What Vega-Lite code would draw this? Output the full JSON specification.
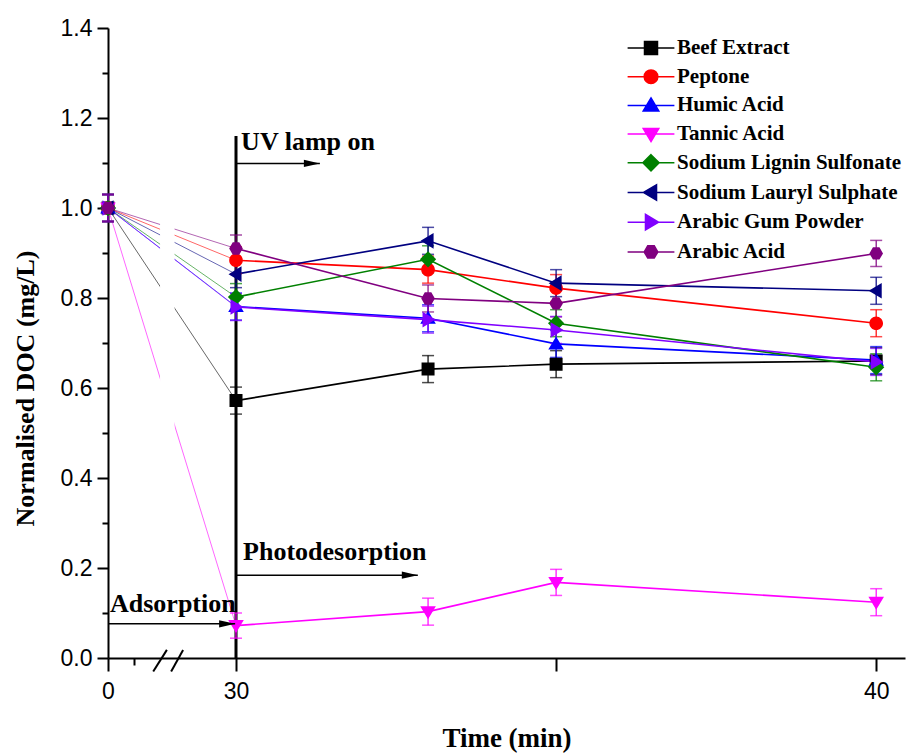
{
  "$schema": "https://vega.github.io/schema/vega-lite/v6.json",
  "width": 797,
  "height": 630,
  "autosize": "none",
  "padding": {"left": 108, "top": 28, "right": 2, "bottom": 96},
  "background": "white",
  "config": {"view": {"stroke": null}, "axis": {"grid": false}},
  "datasets": {
    "doc": [
      {"name": "Beef Extract", "time": 0, "doc": 1.0, "err": 0.03},
      {"name": "Beef Extract", "time": 30, "doc": 0.572, "err": 0.03},
      {"name": "Beef Extract", "time": 33, "doc": 0.642, "err": 0.03},
      {"name": "Beef Extract", "time": 35, "doc": 0.653, "err": 0.03},
      {"name": "Beef Extract", "time": 40, "doc": 0.66, "err": 0.03},
      {"name": "Peptone", "time": 0, "doc": 1.0, "err": 0.03},
      {"name": "Peptone", "time": 30, "doc": 0.884, "err": 0.03},
      {"name": "Peptone", "time": 33, "doc": 0.863, "err": 0.03},
      {"name": "Peptone", "time": 35, "doc": 0.822, "err": 0.03},
      {"name": "Peptone", "time": 40, "doc": 0.744, "err": 0.03},
      {"name": "Humic Acid", "time": 0, "doc": 1.0, "err": 0.03},
      {"name": "Humic Acid", "time": 30, "doc": 0.781, "err": 0.03},
      {"name": "Humic Acid", "time": 33, "doc": 0.755, "err": 0.03},
      {"name": "Humic Acid", "time": 35, "doc": 0.698, "err": 0.03},
      {"name": "Humic Acid", "time": 40, "doc": 0.662, "err": 0.03},
      {"name": "Tannic Acid", "time": 0, "doc": 1.0, "err": 0.03},
      {"name": "Tannic Acid", "time": 30, "doc": 0.072, "err": 0.028},
      {"name": "Tannic Acid", "time": 33, "doc": 0.103, "err": 0.03},
      {"name": "Tannic Acid", "time": 35, "doc": 0.168, "err": 0.029},
      {"name": "Tannic Acid", "time": 40, "doc": 0.124, "err": 0.03},
      {"name": "Sodium Lignin Sulfonate", "time": 0, "doc": 1.0, "err": 0.03},
      {"name": "Sodium Lignin Sulfonate", "time": 30, "doc": 0.802, "err": 0.03},
      {"name": "Sodium Lignin Sulfonate", "time": 33, "doc": 0.886, "err": 0.03},
      {"name": "Sodium Lignin Sulfonate", "time": 35, "doc": 0.744, "err": 0.03},
      {"name": "Sodium Lignin Sulfonate", "time": 40, "doc": 0.646, "err": 0.03},
      {"name": "Sodium Lauryl Sulphate", "time": 0, "doc": 1.0, "err": 0.03},
      {"name": "Sodium Lauryl Sulphate", "time": 30, "doc": 0.853, "err": 0.03},
      {"name": "Sodium Lauryl Sulphate", "time": 33, "doc": 0.927, "err": 0.03},
      {"name": "Sodium Lauryl Sulphate", "time": 35, "doc": 0.833, "err": 0.03},
      {"name": "Sodium Lauryl Sulphate", "time": 40, "doc": 0.816, "err": 0.03},
      {"name": "Arabic Gum Powder", "time": 0, "doc": 1.0, "err": 0.03},
      {"name": "Arabic Gum Powder", "time": 30, "doc": 0.78, "err": 0.03},
      {"name": "Arabic Gum Powder", "time": 33, "doc": 0.752, "err": 0.03},
      {"name": "Arabic Gum Powder", "time": 35, "doc": 0.729, "err": 0.03},
      {"name": "Arabic Gum Powder", "time": 40, "doc": 0.658, "err": 0.03},
      {"name": "Arabic Acid", "time": 0, "doc": 1.0, "err": 0.03},
      {"name": "Arabic Acid", "time": 30, "doc": 0.91, "err": 0.03},
      {"name": "Arabic Acid", "time": 33, "doc": 0.799, "err": 0.03},
      {"name": "Arabic Acid", "time": 35, "doc": 0.788, "err": 0.03},
      {"name": "Arabic Acid", "time": 40, "doc": 0.899, "err": 0.029}
    ],
    "breakband": [{"t1": 12.2, "t2": 15.6, "v1": 0.13, "v2": 0.99}],
    "vline": [{"time": 30, "doc": 0, "doc2": 1.16}],
    "arrows": [
      {"time": 30, "time2": 31.31, "doc": 1.099},
      {"time": 30, "time2": 32.84, "doc": 0.184},
      {"time": 0, "time2": 29.8, "doc": 0.076}
    ],
    "notes": [
      {"label": "UV lamp on", "time": 30.08, "doc": 1.13},
      {"label": "Photodesorption", "time": 30.11, "doc": 0.218},
      {"label": "Adsorption", "time": 0.47, "doc": 0.103}
    ],
    "slashes": [
      {"time": 10.6, "time2": 13.8, "doc": -0.03, "doc2": 0.018},
      {"time": 14.8, "time2": 17.6, "doc": -0.03, "doc2": 0.018}
    ]
  },
  "layer": [
    {
      "data": {"name": "doc"},
      "transform": [{"filter": "datum.time <= 30"}],
      "mark": {"type": "line", "strokeWidth": 1, "opacity": 0.6},
      "encoding": {
        "x": {
          "field": "time", "type": "quantitative",
          "scale": {"domain": [0, 30, 40.45], "range": [0, 128, 797], "nice": false, "zero": false},
          "axis": {
            "title": "Time (min)",
            "values": [0, 6, 30, 35, 40],
            "labelExpr": "datum.value == 0 || datum.value == 30 || datum.value == 40 ? datum.label : ''",
            "format": "d",
            "tickSize": {"condition": {"test": "datum.value == 6", "value": 7}, "value": 13},
            "tickWidth": 2, "tickColor": "black",
            "domainColor": "black", "domainWidth": 2,
            "labelFont": "Liberation Sans", "labelFontSize": 23, "labelColor": "black",
            "labelPadding": 9, "labelFlush": false, "labelOverlap": false, "labelBound": false,
            "titleFont": "Liberation Serif", "titleFontWeight": "bold", "titleFontSize": 27,
            "titleColor": "black", "titlePadding": 22
          }
        },
        "y": {
          "field": "doc", "type": "quantitative",
          "title": "Normalised DOC (mg/L)",
          "scale": {"domain": [0, 1.4], "nice": false, "zero": false},
          "axis": {
            "values": [0, 0.1, 0.2, 0.3, 0.4, 0.5, 0.6, 0.7, 0.8, 0.9, 1.0, 1.1, 1.2, 1.3, 1.4],
            "labelExpr": "round(datum.value * 10) % 2 == 0 ? format(datum.value, '.1f') : ''",
            "tickSize": {"condition": {"test": "round(datum.value * 10) % 2 == 1", "value": 6}, "value": 11},
            "tickWidth": 2, "tickColor": "black",
            "domainColor": "black", "domainWidth": 2,
            "labelFont": "Liberation Sans", "labelFontSize": 23, "labelColor": "black",
            "labelPadding": 5, "labelOverlap": false, "labelBound": false, "labelFlush": false,
            "titleFont": "Liberation Serif", "titleFontWeight": "bold", "titleFontSize": 26,
            "titleColor": "black", "titleX": -83, "titleY": 360, "titleBaseline": "middle",
            "titleAngle": -90, "titleAlign": "center"
          }
        },
        "stroke": {
          "field": "name", "type": "nominal",
          "scale": {
            "domain": ["Arabic Acid", "Arabic Gum Powder", "Sodium Lauryl Sulphate", "Sodium Lignin Sulfonate", "Tannic Acid", "Humic Acid", "Peptone", "Beef Extract"],
            "range": ["#800080", "#8000FF", "#000080", "#008000", "#FF00FF", "#0000FF", "#FF0000", "#000000"]
          },
          "legend": null
        }
      }
    },
    {
      "data": {"name": "breakband"},
      "mark": {"type": "rect", "fill": "white"},
      "encoding": {
        "x": {"field": "t1", "type": "quantitative"},
        "x2": {"field": "t2"},
        "y": {"field": "v1", "type": "quantitative"},
        "y2": {"field": "v2"}
      }
    },
    {
      "data": {"name": "doc"},
      "transform": [{"filter": "datum.time >= 30"}],
      "mark": {"type": "line", "strokeWidth": 1.6},
      "encoding": {
        "x": {"field": "time", "type": "quantitative"},
        "y": {"field": "doc", "type": "quantitative"},
        "stroke": {"field": "name", "type": "nominal", "legend": null}
      }
    },
    {
      "data": {"name": "vline"},
      "mark": {"type": "rule", "strokeWidth": 3, "color": "black"},
      "encoding": {
        "x": {"field": "time", "type": "quantitative"},
        "y": {"field": "doc", "type": "quantitative"},
        "y2": {"field": "doc2"}
      }
    },
    {
      "data": {"name": "doc"},
      "mark": {"type": "errorbar", "ticks": {"size": 12, "thickness": 1.5}, "rule": {"strokeWidth": 1.2}},
      "encoding": {
        "x": {"field": "time", "type": "quantitative", "title": "Time (min)"},
        "y": {"field": "doc", "type": "quantitative", "title": "Normalised DOC (mg/L)"},
        "yError": {"field": "err"},
        "color": {
          "field": "name", "type": "nominal",
          "scale": {
            "domain": ["Arabic Acid", "Arabic Gum Powder", "Sodium Lauryl Sulphate", "Sodium Lignin Sulfonate", "Tannic Acid", "Humic Acid", "Peptone", "Beef Extract"],
            "range": ["#800080", "#8000FF", "#000080", "#008000", "#FF00FF", "#0000FF", "#FF0000", "#000000"]
          },
          "legend": null
        }
      }
    },
    {
      "data": {"name": "doc"},
      "mark": {"type": "point", "filled": true, "opacity": 1, "size": 169, "strokeWidth": 0},
      "encoding": {
        "x": {"field": "time", "type": "quantitative"},
        "y": {"field": "doc", "type": "quantitative"},
        "fill": {
          "field": "name", "type": "nominal",
          "scale": {
            "domain": ["Beef Extract", "Peptone", "Humic Acid", "Tannic Acid", "Sodium Lignin Sulfonate", "Sodium Lauryl Sulphate", "Arabic Gum Powder", "Arabic Acid"],
            "range": ["#000000", "#FF0000", "#0000FF", "#FF00FF", "#008000", "#000080", "#8000FF", "#800080"]
          },
          "legend": {
            "orient": "right", "offset": -274, "padding": 9.5, "title": null,
            "symbolSize": 169, "symbolStrokeWidth": 1.5, "symbolOpacity": 1,
            "labelFont": "Liberation Serif", "labelFontWeight": "bold", "labelFontSize": 21,
            "labelColor": "black", "labelOffset": 15.5, "labelLimit": 400, "rowPadding": 6.7,
            "encode": {"symbols": {"update": {"stroke": {"signal": "scale('fill', datum.value)"}, "strokeWidth": {"value": 1.5}}}}
          }
        },
        "shape": {
          "field": "name", "type": "nominal",
          "scale": {
            "domain": ["Beef Extract", "Peptone", "Humic Acid", "Tannic Acid", "Sodium Lignin Sulfonate", "Sodium Lauryl Sulphate", "Arabic Gum Powder", "Arabic Acid"],
            "range": [
              "M-3.6,0H3.6M-1,-1H1V1H-1Z",
              "M-3.6,0H3.6M1.05,0A1.05,1.05,0,1,1,-1.05,0A1.05,1.05,0,1,1,1.05,0Z",
              "M-3.6,0H3.6M0,-1.15L1.2,0.85L-1.2,0.85Z",
              "M-3.6,0H3.6M0,1.15L1.2,-0.85L-1.2,-0.85Z",
              "M-3.6,0H3.6M0,-1.25L1.25,0L0,1.25L-1.25,0Z",
              "M-3.6,0H3.6M-1.15,0L0.85,-1.2L0.85,1.2Z",
              "M-3.6,0H3.6M1.15,0L-0.85,-1.2L-0.85,1.2Z",
              "M-3.6,0H3.6M-0.5,-0.95L0.5,-0.95L1.05,0L0.5,0.95L-0.5,0.95L-1.05,0Z"
            ]
          },
          "legend": {
            "orient": "right", "offset": -274, "padding": 9.5, "title": null,
            "symbolSize": 169, "symbolStrokeWidth": 1.5, "symbolOpacity": 1,
            "labelFont": "Liberation Serif", "labelFontWeight": "bold", "labelFontSize": 21,
            "labelColor": "black", "labelOffset": 15.5, "labelLimit": 400, "rowPadding": 6.7,
            "encode": {"symbols": {"update": {"stroke": {"signal": "scale('fill', datum.value)"}, "strokeWidth": {"value": 1.5}}}}
          }
        }
      }
    },
    {
      "data": {"name": "arrows"},
      "mark": {"type": "rule", "strokeWidth": 1.5, "color": "black"},
      "encoding": {
        "x": {"field": "time", "type": "quantitative"},
        "x2": {"field": "time2"},
        "y": {"field": "doc", "type": "quantitative"}
      }
    },
    {
      "data": {"name": "arrows"},
      "mark": {"type": "point", "shape": "M-2,-0.45L0,0L-2,0.45Z", "filled": true, "color": "black", "opacity": 1, "size": 256, "strokeWidth": 0},
      "encoding": {
        "x": {"field": "time2", "type": "quantitative"},
        "y": {"field": "doc", "type": "quantitative"}
      }
    },
    {
      "data": {"name": "notes"},
      "mark": {"type": "text", "align": "left", "baseline": "alphabetic", "font": "Liberation Serif", "fontWeight": "bold", "fontSize": 26, "color": "black"},
      "encoding": {
        "x": {"field": "time", "type": "quantitative"},
        "y": {"field": "doc", "type": "quantitative"},
        "text": {"field": "label"}
      }
    },
    {
      "data": {"name": "slashes"},
      "mark": {"type": "rule", "strokeWidth": 2, "color": "black"},
      "encoding": {
        "x": {"field": "time", "type": "quantitative"},
        "x2": {"field": "time2"},
        "y": {"field": "doc", "type": "quantitative"},
        "y2": {"field": "doc2"}
      }
    }
  ]
}
